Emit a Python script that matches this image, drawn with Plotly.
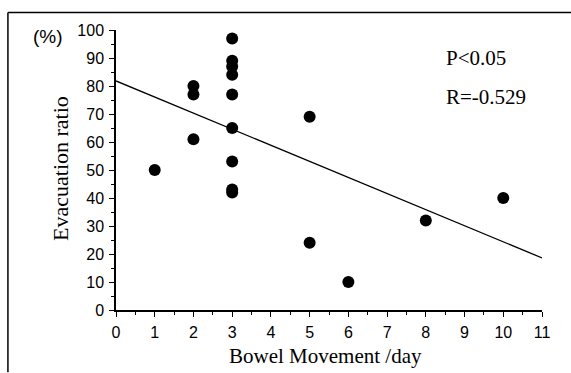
import plotly.graph_objects as go

bowel_movement = [1, 2, 2, 2, 3, 3, 3, 3, 3, 3, 3, 3, 3, 5, 5, 6, 8, 10]
evacuation_ratio = [50, 80, 77, 61, 97, 89, 87, 84, 77, 65, 53, 43, 42, 69, 24, 10, 32, 40]
fit_x = [0, 11]
fit_y = [81.8, 18.6]
x_ticks = list(range(0, 12))
y_ticks = list(range(0, 101, 10))

W, H = 571, 373
L, R, T, B = 116, 541.7, 29.5, 310.5

fig = go.Figure()
fig.add_trace(go.Scatter(x=fit_x, y=fit_y, mode="lines",
                         line=dict(color="black", width=1.3), cliponaxis=False,
                         showlegend=False, hoverinfo="skip"))
fig.add_trace(go.Scatter(x=bowel_movement, y=evacuation_ratio, mode="markers",
                         marker=dict(color="black", size=12), cliponaxis=False,
                         showlegend=False))

tickfont = dict(family="Liberation Sans, Arial", size=16, color="black")
fig.update_xaxes(range=[0, 11], tickvals=x_ticks, ticks="outside", ticklen=5, tickwidth=1.3,
                 tickcolor="black", showline=True, linecolor="black", linewidth=1.5,
                 showgrid=False, zeroline=False, tickfont=tickfont, ticklabelstandoff=2,
                 minor=dict(dtick=0.5, ticks="outside", ticklen=3, tickcolor="black", tickwidth=1))
fig.update_yaxes(range=[0, 100], tickvals=y_ticks, ticks="outside", ticklen=5, tickwidth=1.3,
                 tickcolor="black", showline=True, linecolor="black", linewidth=1.5,
                 showgrid=False, zeroline=False, tickfont=tickfont, ticklabelstandoff=2,
                 minor=dict(dtick=5, ticks="outside", ticklen=3, tickcolor="black", tickwidth=1))

pw, ph = R - L, B - T
def px(x):
    return (x - L) / pw
def py(y):
    return (B - y) / ph

serif = dict(family="Liberation Serif, Times New Roman", size=21, color="black")
ann = [
    dict(text="(%)", x=px(48), y=py(36), font=dict(family="Liberation Sans, Arial", size=19, color="black")),
    dict(text="Evacuation ratio", x=px(60), y=py(168), textangle=-90,
         font=dict(family="Liberation Serif, Times New Roman", size=22, color="black")),
    dict(text="Bowel Movement /day", x=px(325), y=py(357), font=serif),
    dict(text="P<0.05", x=px(444), y=py(58), xanchor="left", font=serif),
    dict(text="R=-0.529", x=px(444), y=py(97), xanchor="left", font=serif),
]
for a in ann:
    a.setdefault("xanchor", "center")
    fig.add_annotation(xref="paper", yref="paper", showarrow=False, yanchor="middle", **a)

fig.add_shape(type="line", xref="paper", yref="paper", x0=px(8), x1=px(571), y0=py(12), y1=py(12),
              line=dict(color="black", width=1.5))
fig.add_shape(type="line", xref="paper", yref="paper", x0=px(8), x1=px(8), y0=py(12), y1=py(373),
              line=dict(color="black", width=1.5))

fig.update_layout(width=W, height=H, margin=dict(l=L, r=W - R, t=T, b=H - B),
                  plot_bgcolor="white", paper_bgcolor="white")
fig.write_html("out.html", config={"displayModeBar": False},
               post_script="document.body.style.margin='0';document.body.style.overflow='hidden';")
